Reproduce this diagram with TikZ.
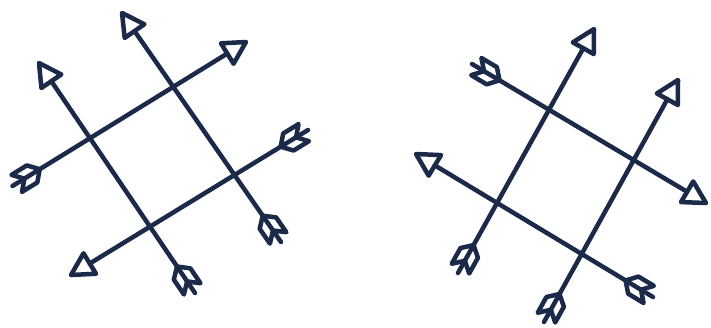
\documentclass[tikz,border=0pt]{standalone}
\usetikzlibrary{calc}
\definecolor{navy}{HTML}{1B2A48}
\tikzset{arrowline/.style={draw=navy, line width=4.5pt, line join=round, line cap=round}}
% #1 = nock end, #2 = head tip
\newcommand\bohoarrow[2]{%
  \coordinate (hb) at ($(#2)!22pt!(#1)$);
  \coordinate (nb) at ($(#1)!5pt!(#2)$);
  \coordinate (bi) at ($(#1)!14pt!(#2)$);
  \coordinate (fo) at ($(#1)!23pt!(#2)$);
  \coordinate (fi) at ($(#1)!32pt!(#2)$);
  \draw[arrowline] (#1) -- (hb);
  \draw[arrowline] (#2) -- ($(hb)!12pt!90:(#2)$) -- ($(hb)!12pt!-90:(#2)$) -- cycle;
  \draw[arrowline] (bi) -- ($(nb)!10pt!90:(#2)$) -- ($(fo)!10pt!90:(#2)$) -- (fi);
  \draw[arrowline] (bi) -- ($(nb)!10pt!-90:(#2)$) -- ($(fo)!10pt!-90:(#2)$) -- (fi);
}
\begin{document}
\begin{tikzpicture}[x=1pt,y=-1pt]
\useasboundingbox (0,0) rectangle (711,327);
\fill[white] (0,0) rectangle (711,327);
% left group
\coordinate (n1) at (195,293); \coordinate (t1) at (39,63);
\coordinate (n2) at (281,242); \coordinate (t2) at (122,13);
\coordinate (n3) at (12.5,186); \coordinate (t3) at (246,42);
\coordinate (n4) at (308,130); \coordinate (t4) at (71,275);
\bohoarrow{n1}{t1}
\bohoarrow{n2}{t2}
\bohoarrow{n3}{t3}
\bohoarrow{n4}{t4}
% right group
\coordinate (n5) at (472,64); \coordinate (t5) at (706,203);
\coordinate (n6) at (653,297); \coordinate (t6) at (416,154);
\coordinate (n7) at (458,273); \coordinate (t7) at (594,29);
\coordinate (n8) at (544,322); \coordinate (t8) at (678,80);
\bohoarrow{n5}{t5}
\bohoarrow{n6}{t6}
\bohoarrow{n7}{t7}
\bohoarrow{n8}{t8}
\end{tikzpicture}
\end{document}
